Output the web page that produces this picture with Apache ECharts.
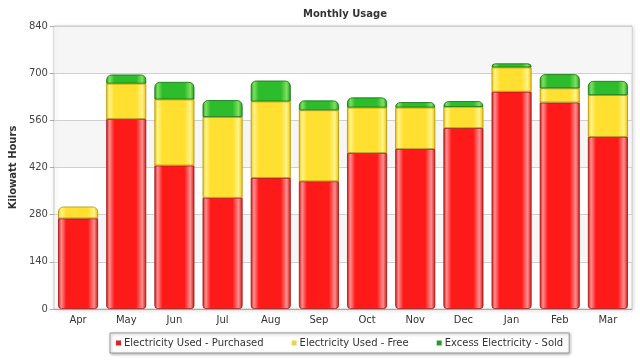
<!DOCTYPE html>
<html><head><meta charset="utf-8">
<script src="https://cdn.jsdelivr.net/npm/echarts@6/dist/echarts.min.js"></script>
<style>html,body{margin:0;padding:0;background:#fff}#c{width:640px;height:360px}</style>
</head><body><div id="c"></div>
<script>
var months = ['Apr','May','Jun','Jul','Aug','Sep','Oct','Nov','Dec','Jan','Feb','Mar'];
var purchased = [269,564,426,330,389,379,463,475,537,645,613,511];
var free = [35,105,196,240,227,211,135,123,63,72,42,124];
var sold = [0,27,52,50,62,29,30,16,17,12,42,42];
var yTicks = [0,140,280,420,560,700,840];

function grad(dark, light, main){
  return {type:'linear',x:0,y:0,x2:1,y2:0,colorStops:[
    {offset:0,color:dark},{offset:0.08,color:light},{offset:0.2,color:main},
    {offset:0.75,color:main},{offset:0.9,color:light},{offset:1,color:dark}]};
}
var styles = [
  {name:'Electricity Used - Purchased', vals:purchased, color:'#e0202a', fill:grad('#d01010','#ff9090','#ff1a1a'), border:'#a01010'},
  {name:'Electricity Used - Free', vals:free, color:'#e6d44a', fill:grad('#f0c000','#fff48a','#ffe030'), border:'#b09000'},
  {name:'Excess Electricity - Sold', vals:sold, color:'#2a9a2a', fill:grad('#1a9a1a','#80e060','#2cbc2c'), border:'#107010'}
];
var all = [purchased, free, sold];
function topIndex(i){ var t=0; for(var s=0;s<3;s++){ if(all[s][i]>0) t=s; } return t; }
var series = styles.map(function(st, s){
  return {
    name: st.name, type:'bar', stack:'a', barWidth:40,
    itemStyle:{color:st.fill, borderColor:st.border, borderWidth:0.8},
    data: st.vals.map(function(v,i){
      var r = [0,0,0,0];
      if (topIndex(i)===s) { r[0]=5; r[1]=5; }
      if (s===0) { r[2]=3; r[3]=3; }
      return {value:v, itemStyle:{borderRadius:r, borderWidth: v>0 ? 0.8 : 0}};
    })
  };
});
chart = echarts.init(document.getElementById('c'));
chart.setOption({
  animation:false,
  title:{text:'Monthly Usage', left:340, top:4, textAlign:'center',
    textStyle:{fontFamily:'DejaVu Sans', fontSize:10, fontWeight:'bold', color:'#333'}},
  grid:{left:48, right:8, top:26, bottom:51, show:true, borderColor:'#c8c8c8', borderWidth:1,
    backgroundColor:'#fff', shadowBlur:4, shadowColor:'rgba(0,0,0,0.15)', shadowOffsetX:1, shadowOffsetY:1},
  legend:{bottom:7, left:110, itemWidth:5, itemHeight:5, itemGap:28, icon:'rect',
    padding:[5,6,5,6], borderColor:'#999', borderWidth:1, backgroundColor:'#fff',
    shadowBlur:3, shadowColor:'rgba(0,0,0,0.3)', shadowOffsetX:1, shadowOffsetY:1,
    data: styles.map(function(st){ return {name:st.name, itemStyle:{color:st.color, borderWidth:0}}; }),
    textStyle:{fontFamily:'DejaVu Sans', fontSize:10, color:'#333', padding:[0,0,0,-2]}},
  xAxis:{type:'category', data:months,
    axisLine:{lineStyle:{color:'#aaa'}}, axisTick:{show:false},
    axisLabel:{fontFamily:'DejaVu Sans', fontSize:10, color:'#333', margin:6}},
  yAxis:{type:'value', min:yTicks[0], max:yTicks[yTicks.length-1], interval:140,
    name:'Kilowatt Hours', nameLocation:'middle', nameGap:34,
    nameTextStyle:{fontFamily:'DejaVu Sans', fontSize:10, fontWeight:'bold', color:'#333'},
    axisLine:{show:false}, axisTick:{show:true, length:4, lineStyle:{color:'#aaa'}},
    axisLabel:{fontFamily:'DejaVu Sans', fontSize:10, color:'#444', margin:6},
    splitLine:{lineStyle:{color:'#d0d0d0'}},
    splitArea:{show:true, areaStyle:{color:['rgba(255,255,255,0)','rgba(242,242,242,0.7)']}}},
  series: series
});
</script></body></html>
